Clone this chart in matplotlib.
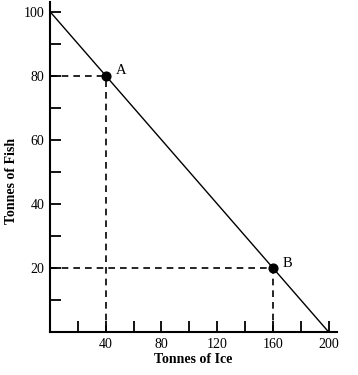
import matplotlib
matplotlib.use("Agg")
import matplotlib.pyplot as plt
import numpy as np

line_x = [0, 200]
line_y = [100, 0]
point_labels = ["A", "B"]
point_x = [40, 160]
point_y = [80, 20]
x_ticks = list(range(20, 201, 20))
x_labels = ["" if v % 40 else str(v) for v in x_ticks]
y_ticks = list(range(10, 101, 10))
y_labels = ["" if v % 20 else str(v) for v in y_ticks]

plt.rcParams['font.family'] = ['Liberation Serif', 'DejaVu Serif']

fig = plt.figure(figsize=(3.58, 3.75), dpi=100)
ax = fig.add_axes([50/358, 43/375, 287/358, 330/375])
ax.set_xlim(0, 206)
ax.set_ylim(0, 103)

ax.plot(line_x, line_y, color='black', lw=1.0)
for lab, px, py in zip(point_labels, point_x, point_y):
    ax.plot([0, px], [py, py], color='black', lw=1.2, ls=(0, (4, 3)))
    ax.plot([px, px], [0, py], color='black', lw=1.2, ls=(0, (4, 3)))
    ax.plot(px, py, 'o', color='black', ms=6.3)
    ax.annotate(lab, (px, py), xytext=(7, 3.5), textcoords='offset points',
                fontsize=10.5, va='center', ha='left')

for s in ['top', 'right']:
    ax.spines[s].set_visible(False)
for s in ['left', 'bottom']:
    ax.spines[s].set_linewidth(1.5)

ax.set_xticks(x_ticks)
ax.set_xticklabels(x_labels, fontsize=10)
ax.set_yticks(y_ticks)
ax.set_yticklabels(y_labels, fontsize=10)
ax.tick_params(direction='in', length=8, width=1.3, pad=4)

ax.set_xlabel("Tonnes of Ice", fontsize=10, fontweight='bold', labelpad=2)
ax.set_ylabel("Tonnes of Fish", fontsize=10, fontweight='bold', va='center')
ax.yaxis.set_label_coords(-0.134, 0.458)

fig.savefig("out.png", dpi=100)
